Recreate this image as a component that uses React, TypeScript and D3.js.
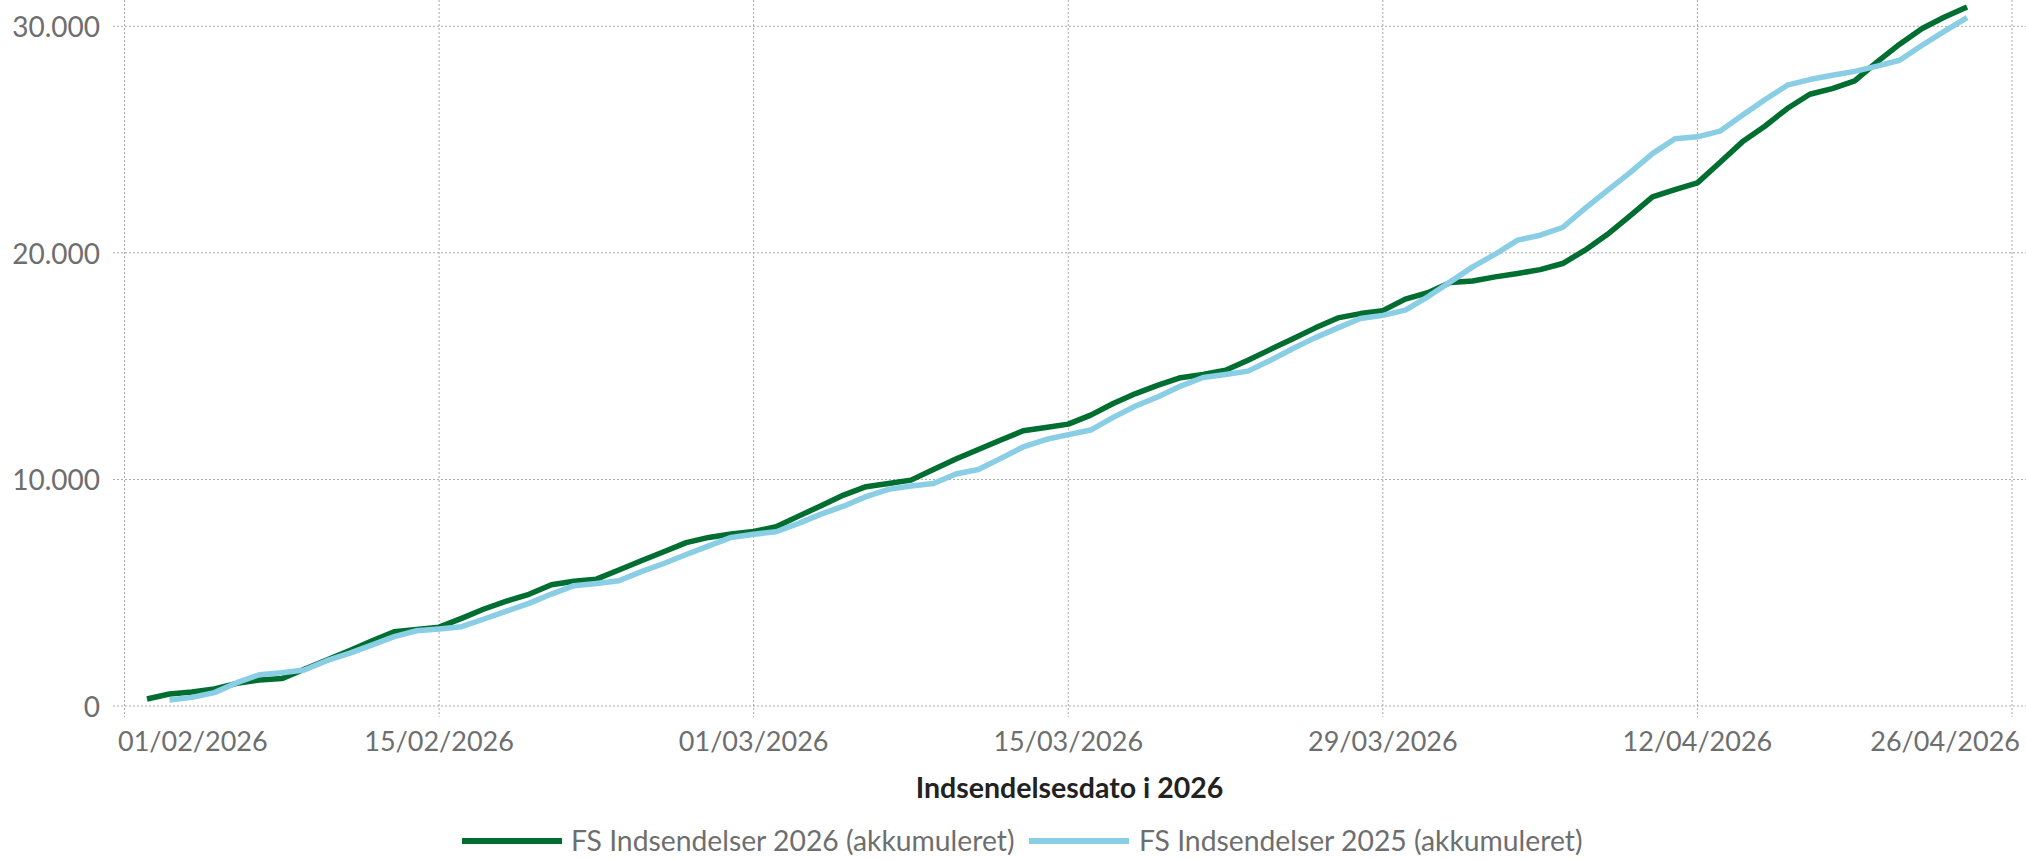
import React, { useEffect } from 'react'
import * as d3 from 'd3'

// first day of each series (days counted from this)
const startDate2026 = '2026-02-02'
const startDate2025 = '2026-02-03'

// FS Indsendelser 2026 (akkumuleret), one value per day
const values2026 = [
    310, 530, 620, 750, 1000, 1150, 1210, 1620, 2030, 2440, 2870, 3280, 3380, 3480,
    3870, 4280, 4630, 4930, 5350, 5510, 5600, 6000, 6410, 6810, 7210, 7440, 7590, 7700,
    7910, 8380, 8840, 9310, 9680, 9820, 9970, 10440, 10900, 11320, 11740, 12150, 12290, 12440,
    12840, 13350, 13790, 14160, 14490, 14630, 14820, 15260, 15740, 16210, 16690, 17130, 17320, 17450,
    17960, 18240, 18690, 18760, 18940, 19090, 19260, 19530, 20120, 20820, 21630, 22470, 22790, 23090,
    23990, 24900, 25590, 26370, 27000, 27250, 27590, 28430, 29210, 29900, 30410, 30850
]

// FS Indsendelser 2025 (akkumuleret), one value per day
const values2025 = [
    265, 380, 590, 1030, 1380, 1470, 1590, 2000, 2320, 2690, 3060, 3320, 3400,
    3500, 3840, 4190, 4530, 4940, 5310, 5410, 5530, 5930, 6290, 6690, 7070, 7440, 7580,
    7690, 8060, 8470, 8820, 9240, 9560, 9710, 9820, 10240, 10440, 10930, 11440, 11760, 11980,
    12180, 12740, 13240, 13650, 14120, 14500, 14630, 14780, 15260, 15780, 16260, 16690, 17100, 17240,
    17470, 18060, 18720, 19380, 19940, 20560, 20780, 21120, 21960, 22760, 23540, 24380, 25040, 25120,
    25370, 26070, 26760, 27400, 27650, 27840, 28010, 28240, 28500, 29160, 29790, 30380
]

const xTickLabels = ['01/02/2026', '15/02/2026', '01/03/2026', '15/03/2026', '29/03/2026', '12/04/2026', '26/04/2026']
const yTickValues = [0, 10000, 20000, 30000]

const seriesNames = ['FS Indsendelser 2026 (akkumuleret)', 'FS Indsendelser 2025 (akkumuleret)']
const seriesColors = ['#006e31', '#89cee4']

const parseLabel = d3.timeParse('%d/%m/%Y')
const parseIso = d3.timeParse('%Y-%m-%d')
const fmtY = (v: number) => d3.format(',')(v).replace(/,/g, '.')

const FONT = 'Lato, "Noto Sans", sans-serif'

export default function App() {
    useEffect(() => {
        document.body.style.margin = '0'
    }, [])

    const width = 2026
    const height = 860
    const plotLeft = 113
    const plotRight = 2026
    const plotTop = 0
    const plotBottom = 717

    const xTicks = xTickLabels.map((s) => parseLabel(s) as Date)
    const x = d3
        .scaleTime()
        .domain([xTicks[0], xTicks[xTicks.length - 1]])
        .range([124.5, 2012])
    const y = d3.scaleLinear().domain([0, 30000]).range([706, 26.3])

    const toPoints = (start: string, vals: number[]) => {
        const s = parseIso(start) as Date
        return vals.map((v, i) => ({ date: d3.timeDay.offset(s, i), value: v }))
    }
    const series = [toPoints(startDate2026, values2026), toPoints(startDate2025, values2025)]

    const line = d3
        .line<{ date: Date; value: number }>()
        .x((d) => x(d.date))
        .y((d) => y(d.value))

    const legendItems = [
        { lineX: 462, textX: 571 },
        { lineX: 1029, textX: 1139 }
    ]

    return (
        <svg width={width} height={height} style={{ display: 'block', background: '#fff' }}>
            {/* grid */}
            <g stroke="#a8a8a8" strokeWidth={1} strokeDasharray="2 2">
                {yTickValues.map((v) => (
                    <line key={v} x1={plotLeft} x2={plotRight} y1={y(v)} y2={y(v)} />
                ))}
                {xTicks.map((t, i) => (
                    <line key={i} x1={x(t)} x2={x(t)} y1={plotTop} y2={plotBottom} />
                ))}
            </g>

            {/* y labels */}
            <g fontFamily={FONT} fontSize={28} fill="#6e6e6e" textAnchor="end">
                {yTickValues.map((v) => (
                    <text key={v} x={100} y={y(v) + 11}>
                        {fmtY(v)}
                    </text>
                ))}
            </g>

            {/* x labels */}
            <g fontFamily={FONT} fontSize={27} fill="#6e6e6e">
                {xTicks.map((t, i) => {
                    const first = i === 0
                    const last = i === xTicks.length - 1
                    return (
                        <text
                            key={i}
                            x={first ? 118 : last ? 2020 : x(t)}
                            y={751}
                            textAnchor={first ? 'start' : last ? 'end' : 'middle'}
                        >
                            {xTickLabels[i]}
                        </text>
                    )
                })}
            </g>

            <text
                x={(plotLeft + plotRight) / 2}
                y={798}
                textAnchor="middle"
                fontFamily={FONT}
                fontSize={28.5}
                fontWeight={700}
                fill="#222"
            >
                Indsendelsesdato i 2026
            </text>

            {/* lines */}
            {series.map((s, i) => (
                <path
                    key={i}
                    d={line(s) || ''}
                    fill="none"
                    stroke={seriesColors[i]}
                    strokeWidth={5.5}
                    strokeLinejoin="round"
                />
            ))}

            {/* legend */}
            <g fontFamily={FONT} fontSize={28.3} fill="#6e6e6e">
                {legendItems.map((it, i) => (
                    <g key={i}>
                        <line x1={it.lineX} x2={it.lineX + 100} y1={841} y2={841} stroke={seriesColors[i]} strokeWidth={6} />
                        <text x={it.textX} y={851}>
                            {seriesNames[i]}
                        </text>
                    </g>
                ))}
            </g>
        </svg>
    )
}
